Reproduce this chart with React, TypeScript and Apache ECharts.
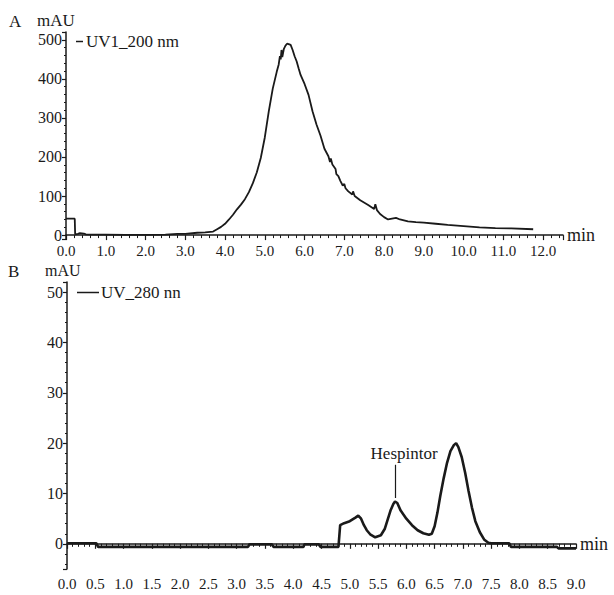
import React, { useEffect, useRef } from "react";
import * as echarts from "echarts";

// Chromatogram A (UV1_200 nm): retention time (min) and absorbance (mAU)
const timeA = [
  0.0, 0.22, 0.23, 0.3, 0.35, 0.45, 0.5, 0.7, 1.0, 1.5, 2.0, 2.5, 2.8, 3.0, 3.3, 3.5, 3.7, 3.8, 3.9,
  4.0, 4.1, 4.2, 4.3, 4.4, 4.5, 4.6, 4.7, 4.8, 4.9, 5.0, 5.1, 5.2, 5.3, 5.35, 5.38, 5.4, 5.42, 5.44,
  5.48, 5.52, 5.56, 5.6, 5.65, 5.7, 5.75, 5.8, 5.85, 5.9, 6.0, 6.1, 6.2, 6.3, 6.4, 6.5, 6.6, 6.64,
  6.66, 6.7, 6.78, 6.8, 6.85, 6.9, 6.96, 7.0, 7.03, 7.1, 7.2, 7.22, 7.26, 7.4, 7.6, 7.75, 7.78, 7.82,
  7.9, 8.0, 8.1, 8.2, 8.3, 8.4, 8.6, 8.8, 9.0, 9.3, 9.6, 10.0, 10.4, 10.8, 11.2, 11.75,
];
const absA = [
  42, 42, 2, 3, 5, 4, 2, 1, 1, 0.5, 0.5, 1, 3, 3, 6, 7, 9, 15, 21,
  29, 40, 52, 66, 78, 92, 110, 133, 161, 198, 250, 317, 375, 418, 437, 458, 450, 474, 456,
  477, 485, 490, 489, 487, 474, 458, 445, 427, 410, 387, 359, 317, 283, 255, 221, 202, 187,
  196, 181, 169, 156, 151, 139, 127, 131, 120, 112, 104, 112, 100, 89, 77, 67, 79, 64,
  54, 46, 40, 42, 44, 40, 35, 33, 32, 29, 26, 23, 20, 18, 17, 15,
];

// Chromatogram B (UV_280 nn)
const timeB = [
  0.0, 0.52, 0.55, 3.2, 3.23, 3.62, 3.65, 4.18, 4.2, 4.45, 4.48, 4.8, 4.83, 4.9, 5.0, 5.1, 5.15,
  5.2, 5.25, 5.3, 5.36, 5.45, 5.55, 5.62, 5.67, 5.72, 5.77, 5.8, 5.84, 5.9, 6.0, 6.1, 6.2, 6.3,
  6.4, 6.45, 6.5, 6.55, 6.6, 6.66, 6.72, 6.78, 6.84, 6.88, 6.92, 6.98, 7.04, 7.1, 7.16, 7.22,
  7.3, 7.38, 7.45, 7.5, 7.82, 7.85, 8.66, 8.69, 9.0,
];
const absB = [
  0.1, 0.1, -0.6, -0.6, -0.1, -0.1, -0.6, -0.6, -0.1, -0.1, -0.6, -0.6, 3.7, 4.1, 4.5, 5.2, 5.6,
  5.0, 3.7, 2.7, 1.9, 1.3, 1.7, 3.0, 4.8, 6.6, 7.9, 8.4, 8.1, 6.6, 5.0, 3.7, 2.7, 2.1,
  1.8, 2.0, 3.5, 6.2, 9.5, 13.0, 16.1, 18.4, 19.6, 20.0, 19.2, 17.2, 14.1, 10.5, 7.2, 4.5,
  2.3, 0.8, 0.2, 0.1, 0.1, -0.6, -0.6, -0.9, -0.9,
];

const peakLabel = "Hespintor";
const peakTime = 5.8;

const FONT = "'Liberation Serif', 'Times New Roman', serif";
const INK = "#1a1a1a";

export default function App() {
  const ref = useRef<HTMLDivElement>(null);
  useEffect(() => {
    if (!ref.current) return;
    const chart = echarts.init(ref.current, undefined, { renderer: "svg" });
    const dataA = timeA.map((t, i) => [t, absA[i]]);
    const dataB = timeB.map((t, i) => [t, absB[i]]);

    const xCommon = (max: number, interval: number, margin: number) => ({
      type: "value",
      min: 0,
      max,
      interval,
      name: "min",
      nameLocation: "end",
      nameGap: 4,
      nameTextStyle: { fontFamily: FONT, fontSize: 18, color: INK },
      axisLine: { show: true, lineStyle: { color: INK, width: 1.5 } },
      axisTick: { show: true, length: 5, lineStyle: { color: INK, width: 1.2 } },
      minorTick: { show: true, splitNumber: 5, length: 3, lineStyle: { color: INK, width: 1 } },
      splitLine: { show: false },
      axisLabel: {
        fontFamily: FONT,
        fontSize: 15,
        color: INK,
        margin,
        showMaxLabel: true,
        showMinLabel: true,
        formatter: (v: number) => (Math.abs(v - 12.5) < 1e-6 ? "" : v.toFixed(1)),
      },
    });
    const yCommon = (min: number, max: number, top: number) => ({
      type: "value",
      min,
      max,
      splitNumber: 5,
      axisLine: { show: true, lineStyle: { color: INK, width: 1.5 } },
      axisTick: { show: true, length: 4, lineStyle: { color: INK, width: 1.2 } },
      minorTick: { show: true, splitNumber: 5, length: 2, lineStyle: { color: INK, width: 1 } },
      splitLine: { show: false },
      axisLabel: {
        fontFamily: FONT,
        fontSize: 16,
        color: INK,
        margin: 4,
        formatter: (v: number) => (v < 0 || v > top ? "" : String(v)),
      },
    });

    chart.setOption({
      animation: false,
      backgroundColor: "#ffffff",
      grid: [
        { left: 66, top: 32, width: 497, height: 207 },
        { left: 67, top: 282, width: 509, height: 287 },
      ],
      xAxis: [
        { ...xCommon(12.5, 1, 4), gridIndex: 0 },
        { ...xCommon(9, 0.5, 7), gridIndex: 1 },
      ],
      yAxis: [
        { ...yCommon(-10, 520, 500), gridIndex: 0 },
        { ...yCommon(-5, 52, 50), gridIndex: 1 },
      ],
      legend: [
        {
          data: ["UV1_200 nm"],
          left: 76,
          top: 33,
          padding: 0,
          icon: "rect",
          itemWidth: 7,
          itemHeight: 1.5,
          itemGap: 0,
          textStyle: { fontFamily: FONT, fontSize: 17, color: INK, padding: [0, 0, 0, -2] },
        },
        {
          data: ["UV_280 nn"],
          left: 77,
          top: 284,
          padding: 0,
          icon: "rect",
          itemWidth: 22,
          itemHeight: 1.5,
          itemGap: 0,
          textStyle: { fontFamily: FONT, fontSize: 17, color: INK, padding: [0, 0, 0, -3] },
        },
      ],
      series: [
        {
          name: "UV1_200 nm",
          type: "line",
          xAxisIndex: 0,
          yAxisIndex: 0,
          data: dataA,
          showSymbol: false,
          symbol: "none",
          lineStyle: { color: INK, width: 1.8 },
          itemStyle: { color: INK },
        },
        {
          name: "UV_280 nn",
          type: "line",
          xAxisIndex: 1,
          yAxisIndex: 1,
          data: dataB,
          showSymbol: false,
          symbol: "none",
          lineStyle: { color: INK, width: 2.6 },
          itemStyle: { color: INK },
          markLine: {
            silent: true,
            symbol: "none",
            label: { show: false },
            lineStyle: { color: INK, width: 1.2, type: "solid" },
            data: [[{ coord: [peakTime, 9.1] }, { coord: [peakTime, 15.7] }]],
          },
          markPoint: {
            silent: true,
            symbol: "rect",
            symbolSize: 1,
            itemStyle: { color: "rgba(0,0,0,0)" },
            label: {
              show: true,
              position: "inside",
              formatter: peakLabel,
              fontFamily: FONT,
              fontSize: 17,
              color: INK,
            },
            data: [{ coord: [5.96, 17.95] }],
          },
        },
      ],
      graphic: [
        { type: "text", left: 9, top: 13, style: { text: "A", fontFamily: FONT, fontSize: 17, fill: INK } },
        { type: "text", left: 37, top: 12, style: { text: "mAU", fontFamily: FONT, fontSize: 17, fill: INK } },
        { type: "text", left: 8, top: 263, style: { text: "B", fontFamily: FONT, fontSize: 17, fill: INK } },
        { type: "text", left: 45, top: 262, style: { text: "mAU", fontFamily: FONT, fontSize: 16, fill: INK } },
      ],
    });
    return () => chart.dispose();
  }, []);
  return (
    <div
      ref={ref}
      style={{ position: "fixed", left: 0, top: 0, width: 614, height: 595, background: "#fff" }}
    />
  );
}
